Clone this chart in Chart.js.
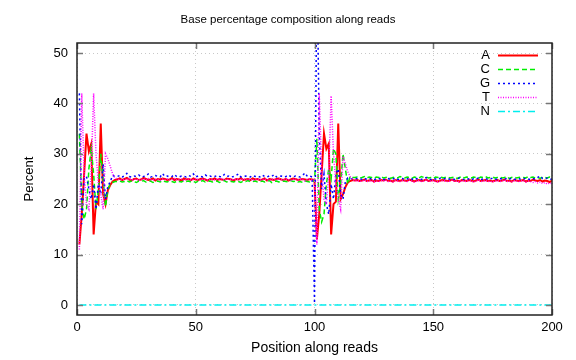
<!DOCTYPE html>
<html><head><meta charset="utf-8">
<script src="https://cdn.jsdelivr.net/npm/chart.js@4.4.0/dist/chart.umd.min.js"></script>
<style>html,body{margin:0;padding:0;background:#fff;}canvas{display:block;}</style>
</head><body>
<canvas id="c" width="576" height="360"></canvas>
<script>
const chartTitle = 'Base percentage composition along reads';
const xTitle = 'Position along reads';
const yTitle = 'Percent';
const seriesLabels = ['A', 'C', 'G', 'T', 'N'];
const xTicks = [0, 50, 100, 150, 200];
const yTicks = [0, 10, 20, 30, 40, 50];

const positions = [
 1,2,3,4,5,6,7,8,9,10,11,12,13,14,15,16,17,18,19,20,
 21,22,23,24,25,26,27,28,29,30,31,32,33,34,35,36,37,38,39,40,
 41,42,43,44,45,46,47,48,49,50,51,52,53,54,55,56,57,58,59,60,
 61,62,63,64,65,66,67,68,69,70,71,72,73,74,75,76,77,78,79,80,
 81,82,83,84,85,86,87,88,89,90,91,92,93,94,95,96,97,98,99,100,
 101,102,103,104,105,106,107,108,109,110,111,112,113,114,115,116,117,118,119,120,
 121,122,123,124,125,126,127,128,129,130,131,132,133,134,135,136,137,138,139,140,
 141,142,143,144,145,146,147,148,149,150,151,152,153,154,155,156,157,158,159,160,
 161,162,163,164,165,166,167,168,169,170,171,172,173,174,175,176,177,178,179,180,
 181,182,183,184,185,186,187,188,189,190,191,192,193,194,195,196,197,198,199,200
];

const baseA = [
 12,18,26,34,30.5,32,14,20.5,20,36,22,20,22.8,23.8,24.5,24.8,
 24.9,25.1,24.8,25.0,25.2,24.9,24.7,25.0,25.1,24.8,24.9,25.2,25.0,24.8,24.9,25.1,24.7,25.0,24.9,25.1,
 25.0,24.8,24.9,25.2,24.8,25.0,24.9,24.7,25.1,24.9,25.0,24.8,25.1,24.9,24.8,25.0,25.1,24.9,24.7,25.0,
 24.9,25.1,24.8,25.0,24.9,24.8,25.1,25.0,24.9,24.7,25.0,24.9,25.2,24.8,24.9,25.0,24.8,25.1,24.9,25.0,
 24.8,24.9,25.1,24.7,25.0,24.9,24.8,25.0,25.1,24.9,24.8,25.0,24.7,24.9,25.1,25.0,24.8,24.9,25.0,24.9,
 24.8,25.0,24.9,24.8,
 13,18,26,34,31,32,14,20,20.5,36,21,22,23.4,24.3,24.6,24.8,
 24.7,24.8,24.6,24.7,24.9,24.6,24.7,24.8,24.5,24.7,24.6,24.8,24.7,24.9,24.6,24.7,24.5,24.8,24.7,24.6,
 24.8,24.7,24.6,24.9,24.7,24.5,24.7,24.8,24.6,24.7,24.9,24.6,24.7,24.8,24.6,24.5,24.7,24.8,24.7,24.6,
 24.7,24.9,24.6,24.7,24.5,24.8,24.7,24.6,24.8,24.7,24.5,24.7,24.9,24.6,24.7,24.8,24.6,24.7,24.5,24.7,
 24.8,24.6,24.7,24.9,24.6,24.7,24.5,24.8,24.7,24.6,24.7,24.8,24.5,24.7,24.6,24.9,24.7,24.6,24.8,24.5,
 24.7,24.6,24.4,24.7
];

const baseC = [
 34,20,17,19,27,31,26,19,23,30,25,19.5,23,24,24.3,24.5,
 24.5,24.6,24.4,24.5,24.7,24.4,24.6,24.5,24.3,24.6,24.5,24.7,24.4,24.5,24.6,24.3,24.5,24.6,24.4,24.7,
 24.5,24.4,24.6,24.5,24.3,24.6,24.5,24.4,24.7,24.5,24.6,24.4,24.5,24.3,24.6,24.5,24.7,24.4,24.5,24.6,
 24.4,24.5,24.6,24.3,24.5,24.7,24.4,24.6,24.5,24.4,24.6,24.5,24.3,24.6,24.5,24.7,24.4,24.5,24.6,24.4,
 24.5,24.6,24.4,24.5,24.7,24.3,24.5,24.6,24.4,24.5,24.6,24.5,24.4,24.7,24.5,24.6,24.4,24.5,24.3,24.6,
 24.5,24.4,24.6,24.5,
 33,19,16.5,18,24,27,25,31,30,21,24,30,27,24,25.5,25.3,
 25.3,25.4,25.2,25.3,25.5,25.2,25.4,25.3,25.1,25.4,25.3,25.5,25.2,25.3,25.4,25.1,25.3,25.4,25.2,25.5,
 25.3,25.2,25.4,25.3,25.1,25.4,25.3,25.2,25.5,25.3,25.4,25.2,25.3,25.1,25.4,25.3,25.5,25.2,25.3,25.4,
 25.2,25.3,25.4,25.1,25.3,25.5,25.2,25.4,25.3,25.2,25.4,25.3,25.1,25.4,25.3,25.5,25.2,25.3,25.4,25.2,
 25.3,25.4,25.2,25.3,25.5,25.1,25.3,25.4,25.2,25.3,25.4,25.3,25.2,25.5,25.3,25.4,25.2,25.3,25.1,25.4,
 25.3,25.2,25.4,25.3
];

const baseG = [
 42,16,25,25.5,23,21,24,19,24,22,28,21,23.5,24.5,25.7,25.5,
 25.5,25.7,25.4,25.6,26.1,25.5,25.4,25.6,25.5,25.8,25.4,25.5,25.6,26.0,25.4,25.5,25.7,25.5,25.4,26.1,
 25.5,25.6,25.4,25.5,25.9,25.5,25.4,25.6,25.5,25.4,25.7,25.5,26.0,25.4,25.6,25.5,25.4,25.8,25.5,25.6,
 25.4,25.5,25.7,25.5,25.4,25.9,25.5,25.6,25.4,25.5,25.7,26.0,25.4,25.5,25.6,25.5,25.4,25.7,25.5,25.6,
 25.4,25.8,25.5,25.4,25.6,25.5,25.9,25.4,25.5,25.6,25.4,25.5,25.8,25.5,25.4,25.6,25.5,25.4,25.7,26.2,
 25.5,25.6,25.4,0.3,
 70,34,23,26,20,18,24,21,26,27,22,21,24.5,25.2,25.0,25.1,
 25.0,25.1,24.9,25.0,25.2,24.9,25.1,25.0,24.8,25.1,25.0,25.2,24.9,25.0,25.1,24.9,25.0,25.2,24.9,25.0,
 25.1,24.9,25.0,25.2,25.0,24.8,25.1,25.0,24.9,25.1,25.3,25.0,24.9,25.1,25.0,24.9,25.2,25.0,25.1,24.9,
 25.0,25.1,24.9,25.0,25.2,25.0,24.9,25.1,25.0,24.8,25.1,25.0,25.2,24.9,25.0,25.1,24.9,25.0,25.2,25.0,
 24.9,25.1,25.0,24.9,25.2,25.0,25.1,24.9,25.0,25.1,24.9,25.0,25.2,25.0,24.9,25.1,25.0,25.3,25.6,25.1,
 25.0,25.2,24.9,25.0
];

const baseT = [
 11,42,26,20,19,27,42,30,24,22,19,30,29,27.5,26,25.2,
 25.0,24.9,24.8,25.0,24.9,25.1,24.8,24.9,25.0,24.7,24.9,25.0,24.8,25.1,24.9,24.8,25.0,24.9,24.7,25.0,
 24.9,25.0,24.8,24.9,25.1,24.8,24.9,25.0,24.7,24.9,25.0,24.8,24.9,25.1,24.9,24.8,25.0,24.9,24.8,25.0,
 24.9,24.8,25.0,24.9,25.1,24.7,24.9,25.0,24.8,24.9,25.0,24.9,24.8,25.1,24.9,24.8,25.0,24.7,24.9,25.0,
 24.8,24.9,25.0,24.9,24.7,25.0,24.9,24.8,25.1,24.9,24.8,25.0,24.9,24.7,24.9,25.0,24.8,24.9,25.0,24.6,
 24.9,25.0,24.8,24.9,
 12,42,27,21,20,26,41.5,30,24,21,19,29.5,28,26.5,25.5,25.0,
 24.6,24.7,24.5,24.6,24.8,24.5,24.6,24.7,24.4,24.6,24.5,24.7,24.6,24.8,24.5,24.6,24.4,24.7,24.6,24.5,
 24.7,24.6,24.5,24.8,24.6,24.4,24.6,24.7,24.5,24.6,24.8,24.5,24.6,24.7,24.5,24.4,24.6,24.7,24.6,24.5,
 24.6,24.8,24.5,24.6,24.4,24.7,24.6,24.5,24.7,24.6,24.4,24.6,24.8,24.5,24.6,24.7,24.5,24.6,24.4,24.6,
 24.7,24.5,24.6,24.8,24.5,24.6,24.4,24.7,24.6,24.5,24.6,24.7,24.4,24.6,24.5,24.3,24.5,24.2,24.4,24.1,
 24.3,24.0,24.2,24.1
];

const baseN = [
 0,0,0,0,0,0,0,0,0,0,0,0,0,0,0,0,0,0,0,0,
 0,0,0,0,0,0,0,0,0,0,0,0,0,0,0,0,0,0,0,0,
 0,0,0,0,0,0,0,0,0,0,0,0,0,0,0,0,0,0,0,0,
 0,0,0,0,0,0,0,0,0,0,0,0,0,0,0,0,0,0,0,0,
 0,0,0,0,0,0,0,0,0,0,0,0,0,0,0,0,0,0,0,0,
 0,0,0,0,0,0,0,0,0,0,0,0,0,0,0,0,0,0,0,0,
 0,0,0,0,0,0,0,0,0,0,0,0,0,0,0,0,0,0,0,0,
 0,0,0,0,0,0,0,0,0,0,0,0,0,0,0,0,0,0,0,0,
 0,0,0,0,0,0,0,0,0,0,0,0,0,0,0,0,0,0,0,0,
 0,0,0,0,0,0,0,0,0,0,0,0,0,0,0,0,0,0,0,0
];

const FONT = "'Liberation Sans', Arial, Helvetica, sans-serif";
const seriesValues = [baseA, baseC, baseG, baseT, baseN];
const seriesStyle = [
  {color: '#ff0000', dash: [], width: 2},
  {color: '#00ee00', dash: [5, 3], width: 1.5},
  {color: '#0000ff', dash: [2, 3], width: 1.5},
  {color: '#ff00ff', dash: [1, 1.5], width: 1.5},
  {color: '#00eeee', dash: [7, 3, 2, 3], width: 1.5}
];

const datasets = seriesLabels.map((lab, k) => ({
  label: lab,
  data: positions.map((p, i) => ({x: p, y: seriesValues[k][i]})),
  borderColor: seriesStyle[k].color,
  backgroundColor: seriesStyle[k].color,
  borderWidth: seriesStyle[k].width,
  borderDash: seriesStyle[k].dash,
  pointRadius: 0,
  tension: 0,
  fill: false,
  clip: 0,
  order: 5 - k
}));

const framePlugin = {
  id: 'frame',
  afterDatasetsDraw(chart) {
    const c = chart.ctx;
    const a = chart.chartArea;
    const xs = chart.scales.x, ys = chart.scales.y;
    c.save();
    // title
    c.font = '11.5px ' + FONT;
    c.fillStyle = '#000';
    c.textAlign = 'center';
    c.textBaseline = 'middle';
    c.fillText(chartTitle, 288, 20);
    // inward ticks
    c.strokeStyle = '#777';
    c.lineWidth = 1.5;
    c.setLineDash([]);
    yTicks.forEach(v => {
      const y = Math.round(ys.getPixelForValue(v)) + 0.5;
      c.beginPath();
      c.moveTo(a.left, y); c.lineTo(a.left + 6, y);
      c.moveTo(a.right, y); c.lineTo(a.right - 6, y);
      c.stroke();
    });
    xTicks.forEach(v => {
      const x = Math.round(xs.getPixelForValue(v)) + 0.5;
      c.beginPath();
      c.moveTo(x, a.bottom); c.lineTo(x, a.bottom - 6);
      c.moveTo(x, a.top); c.lineTo(x, a.top + 6);
      c.stroke();
    });
    // frame
    c.strokeStyle = '#222';
    c.lineWidth = 1.5;
    c.strokeRect(a.left, a.top, a.right - a.left, a.bottom - a.top);
    // legend
    c.font = '13px ' + FONT;
    c.textAlign = 'right';
    c.textBaseline = 'middle';
    chart.data.datasets.forEach((ds, k) => {
      const y = 55 + k * 14;
      c.fillStyle = '#000';
      c.fillText(ds.label, 490, y + 0.5);
      c.strokeStyle = ds.borderColor;
      c.lineWidth = ds.borderWidth;
      c.setLineDash(ds.borderDash);
      c.beginPath();
      c.moveTo(498, y + 0.5); c.lineTo(538, y + 0.5);
      c.stroke();
    });
    c.restore();
  }
};

new Chart(document.getElementById('c'), {
  type: 'line',
  data: {datasets},
  options: {
    responsive: false,
    animation: false,
    devicePixelRatio: 1,
    layout: {padding: {left: 0, right: 24, top: 43, bottom: 0}},
    plugins: {
      legend: {display: false},
      tooltip: {enabled: false},
      title: {display: false}
    },
    scales: {
      x: {
        type: 'linear',
        min: 0, max: 200,
        afterFit(s) { s.height = 45; },
        ticks: {stepSize: 50, includeBounds: false, color: '#000', padding: 5, maxRotation: 0,
                font: {family: FONT, size: 13}},
        grid: {color: '#c8c8c8', lineWidth: 1, drawTicks: false},
        border: {display: false, dash: [1, 3]},
        title: {display: true, text: xTitle, color: '#000', font: {family: FONT, size: 14},
                padding: {top: 0, bottom: 3}}
      },
      y: {
        type: 'linear',
        min: -2, max: 52,
        afterFit(s) { s.width = 77; },
        ticks: {stepSize: 10, includeBounds: false, color: '#000', padding: 9,
                font: {family: FONT, size: 13}},
        grid: {color: '#c8c8c8', lineWidth: 1, drawTicks: false},
        border: {display: false, dash: [1, 3]},
        title: {display: true, text: yTitle, color: '#000', font: {family: FONT, size: 13},
                padding: {top: 22, bottom: 0}}
      }
    }
  },
  plugins: [framePlugin]
});
</script>
</body></html>
